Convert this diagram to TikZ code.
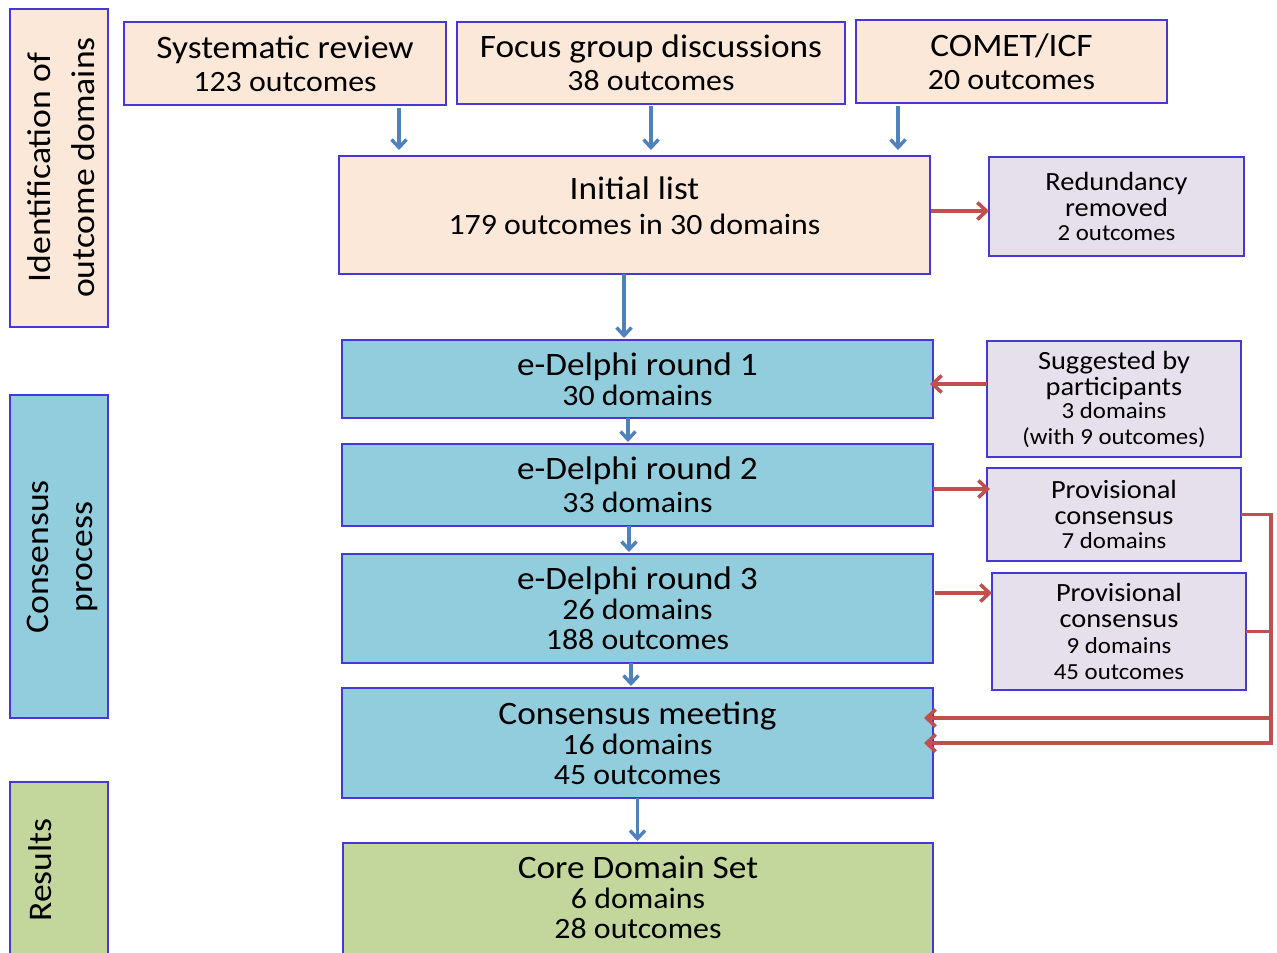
\documentclass[tikz,border=0pt]{standalone}
\usepackage{fontspec}
\setmainfont{Carlito}[FakeStretch=1.08]
\usetikzlibrary{arrows.meta,calc}
\definecolor{peach}{RGB}{252,232,216}
\definecolor{cblue}{RGB}{146,205,221}
\definecolor{cgreen}{RGB}{195,214,155}
\definecolor{lav}{RGB}{229,224,236}
\definecolor{bordc}{RGB}{70,55,215}
\definecolor{abl}{RGB}{79,129,189}
\definecolor{ared}{RGB}{192,80,77}
\newcommand{\fs}[2]{\fontsize{#1}{#2}\selectfont}
\newcommand{\cnt}{\fontsize{29.5}{30}\selectfont}
\newcommand{\lt}{\fontsize{26.3}{26}\selectfont}
\newcommand{\lc}{\fontsize{23}{26}\selectfont}
\tikzset{
  box/.style={draw=bordc, line width=1.4pt, inner sep=0pt, outer sep=0pt, align=center, text=black},
  srcbox/.style={box, fill=peach, font=\fs{32.7}{33}},
  lavbox/.style={box, fill=lav, font=\fs{26.3}{26}},
  procbox/.style={box, fill=cblue, font=\fs{32.7}{30}},
  sidebox/.style={box},
  sidetext/.style={rotate=90, anchor=north, inner sep=0pt, align=center, font=\fs{33}{44}},
  plaintext/.style={inner sep=0pt, align=center},
  barrow/.style={draw=abl, line width=3.4pt, -{Straight Barb[length=8pt,width=15pt]}},
  rarrow/.style={draw=ared, line width=3.6pt, -{Straight Barb[length=9pt,width=17pt]}}
}
\begin{document}
\begin{tikzpicture}[x=1pt,y=-1pt]
\useasboundingbox (0,0) rectangle (1277,953);
\clip (0,0) rectangle (1277,953);
% side labels
\node[sidebox, fill=peach, minimum width=98, minimum height=318] (L1) at (59,168) {};
\node[sidetext] (L1t) at (27,167.5) {Identification of\\outcome domains};
\node[sidebox, fill=cblue, minimum width=98, minimum height=323] (L2) at (59,556.5) {};
\node[sidetext] (L2t) at (27,557) {Consensus\\process};
\node[sidebox, fill=cgreen, minimum width=98, minimum height=178] (L3) at (59,871) {};
\node[sidetext] (L3t) at (28,870) {Results};
% sources
\node[srcbox, minimum width=322, minimum height=83] (SR) at (285,63.5) {Systematic review\\\cnt 123 outcomes};
\node[srcbox, minimum width=388, minimum height=82] (FG) at (651,63) {Focus group discussions\\\cnt 38 outcomes};
\node[srcbox, minimum width=311, minimum height=83] (CI) at (1011.5,61.5) {COMET/ICF\\\cnt 20 outcomes};
\node[box, fill=peach, minimum width=591, minimum height=118] (IL) at (634.5,215) {};
\node[plaintext, font=\fs{32.7}{35}] (ILt) at ([yshift=9pt]IL.center) {Initial list\\\cnt 179 outcomes in 30 domains};
% side boxes
\node[lavbox, minimum width=255, minimum height=99] (RR) at (1116.5,206.5) {Redundancy\\removed\\[-2pt]\lc 2 outcomes};
\node[lavbox, minimum width=254, minimum height=116] (SP) at (1114,399) {Suggested by\\participants\\[-3pt]\lc 3 domains\\\lc (with 9 outcomes)};
\node[lavbox, minimum width=254, minimum height=93] (P7) at (1114,514.5) {Provisional\\consensus\\[-2pt]\lc 7 domains};
\node[lavbox, minimum width=254, minimum height=117] (P9) at (1119,631.5) {Provisional\\consensus\\\lc 9 domains\\\lc 45 outcomes};
% process
\node[procbox, minimum width=591, minimum height=78] (D1) at (637.5,379) {e-Delphi round 1\\\cnt 30 domains};
\node[procbox, minimum width=591, minimum height=82] (D2) at (637.5,485) {e-Delphi round 2\\[3pt]\cnt 33 domains};
\node[procbox, minimum width=591, minimum height=109] (D3) at (637.5,608.5) {e-Delphi round 3\\\cnt 26 domains\\\cnt 188 outcomes};
\node[procbox, minimum width=591, minimum height=110] (CM) at (637.5,743) {Consensus meeting\\\cnt 16 domains\\\cnt 45 outcomes};
\node[procbox, fill=cgreen, minimum width=590, minimum height=117] (CD) at (638,901.5) {};
\node[plaintext, font=\fs{32.7}{30}] (CDt) at ([yshift=4pt]CD.center) {Core Domain Set\\\cnt 6 domains\\\cnt 28 outcomes};
% blue arrows
\draw[barrow, shorten <=3pt, shorten >=6pt] ([xshift=114pt]SR.south) -- ([xshift=114pt]SR.south |- IL.north);
\draw[barrow, shorten <=2pt, shorten >=6pt] (FG.south) -- (FG.south |- IL.north);
\draw[barrow, shorten <=3pt, shorten >=6pt] ([xshift=-113.5pt]CI.south) -- ([xshift=-113.5pt]CI.south |- IL.north);
\draw[barrow, shorten >=2pt] ([xshift=-10.5pt]IL.south) -- ([xshift=-10.5pt]IL.south |- D1.north);
\draw[barrow, shorten >=2pt] ([xshift=-9.5pt]D1.south) -- ([xshift=-9.5pt]D1.south |- D2.north);
\draw[barrow, shorten >=2pt] ([xshift=-8.5pt]D2.south) -- ([xshift=-8.5pt]D2.south |- D3.north);
\draw[barrow, shorten >=2pt] ([xshift=-6.5pt]D3.south) -- ([xshift=-6.5pt]D3.south |- CM.north);
\draw[barrow, shorten >=2pt] (CM.south) -- (CM.south |- CD.north);
% red arrows
\draw[rarrow, shorten <=1pt] ([yshift=4pt]IL.east) -- ([yshift=4pt]IL.east -| RR.west);
\draw[rarrow, shorten >=-3pt] ([yshift=-5pt]D1.east -| SP.west) -- ([yshift=-5pt]D1.east);
\draw[rarrow, shorten >=-3pt] ([yshift=-4pt]D2.east) -- ([yshift=-4pt]D2.east -| P7.west);
\draw[rarrow, shorten <=2pt] ([yshift=15.5pt]D3.east) -- ([yshift=15.5pt]D3.east -| P9.west);
\coordinate (bus) at ([xshift=30pt]P7.east);
\draw[rarrow, shorten >=-9pt] (P7.east) -- (bus) |- (CM.east);
\draw[rarrow, shorten >=-9pt] (P9.east) -- (P9.east -| bus) |- ([yshift=25pt]CM.east);
\end{tikzpicture}
\end{document}
